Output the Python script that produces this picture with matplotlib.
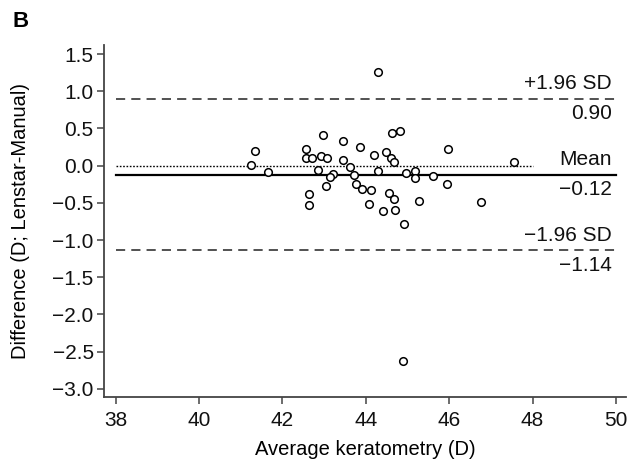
import matplotlib
matplotlib.use("Agg")
import matplotlib.pyplot as plt

plt.rcParams["font.family"] = ["Liberation Sans", "DejaVu Sans"]

# Bland-Altman data
avg_k = [41.25, 41.35, 41.66, 42.56, 42.56, 42.70, 42.63, 42.63, 42.96, 42.93,
         43.07, 42.85, 43.22, 43.13, 43.05, 43.44, 43.44, 43.63, 43.72, 43.76,
         43.91, 44.12, 44.07, 43.86, 44.19, 44.29, 44.48, 44.60, 44.68, 44.63,
         44.83, 44.96, 45.18, 45.19, 45.60, 45.98, 45.95, 44.56, 44.67, 45.27,
         44.40, 44.71, 44.92, 44.28, 47.56, 46.77, 44.90]
diff = [0.01, 0.20, -0.08, 0.22, 0.10, 0.10, -0.38, -0.53, 0.41, 0.13,
        0.10, -0.06, -0.11, -0.15, -0.28, 0.33, 0.08, -0.02, -0.12, -0.25,
        -0.32, -0.33, -0.52, 0.25, 0.14, -0.07, 0.19, 0.10, 0.05, 0.44,
        0.47, -0.10, -0.07, -0.17, -0.14, 0.22, -0.25, -0.37, -0.45, -0.47,
        -0.61, -0.59, -0.78, 1.26, 0.05, -0.49, -2.62]

mean_diff = -0.12
upper_loa = 0.90
lower_loa = -1.14

x_ticks = [38, 40, 42, 44, 46, 48, 50]
y_ticks = [1.5, 1.0, 0.5, 0.0, -0.5, -1.0, -1.5, -2.0, -2.5, -3.0]

fig = plt.figure(figsize=(6.29, 4.63), dpi=100)
ax = fig.add_axes([0.1655, 0.1425, 0.829, 0.760])

spine_col = "#444444"

# reference lines
ax.plot([38, 50], [upper_loa, upper_loa], color="#222222", lw=1.1,
        dashes=(6, 4), zorder=1)
ax.plot([38, 50], [lower_loa, lower_loa], color="#222222", lw=1.1,
        dashes=(6, 4), zorder=1)
ax.plot([38, 50], [mean_diff, mean_diff], color="black", lw=1.6, zorder=1)
ax.plot([38, 48], [0, 0], color="black", lw=1.0, ls=(0, (1.2, 1.2)), zorder=1)

ax.scatter(avg_k, diff, s=30, facecolors="white", edgecolors="black",
           linewidths=1.1, zorder=3)

# line labels
lab_kw = dict(ha="right", fontsize=15, color="#111111")
ax.annotate("+1.96 SD", (49.9, upper_loa), xytext=(0, 4),
            textcoords="offset points", va="bottom", **lab_kw)
ax.annotate(f"{upper_loa:.2f}", (49.9, upper_loa), xytext=(0, -4),
            textcoords="offset points", va="top", **lab_kw)
ax.annotate("Mean", (49.9, mean_diff), xytext=(0, 4),
            textcoords="offset points", va="bottom", **lab_kw)
ax.annotate(f"\u2212{abs(mean_diff):.2f}", (49.9, mean_diff), xytext=(0, -4),
            textcoords="offset points", va="top", **lab_kw)
ax.annotate("\u22121.96 SD", (49.9, lower_loa), xytext=(0, 4),
            textcoords="offset points", va="bottom", **lab_kw)
ax.annotate(f"\u2212{abs(lower_loa):.2f}", (49.9, lower_loa), xytext=(0, -4),
            textcoords="offset points", va="top", **lab_kw)

ax.set_xlim(37.72, 50.23)
ax.set_ylim(-3.11, 1.62)
ax.set_xticks(x_ticks)
ax.set_yticks(y_ticks)
ax.set_yticklabels([f"{v:.1f}".replace("-", "\u2212") for v in y_ticks])

ax.spines["top"].set_visible(False)
ax.spines["right"].set_visible(False)
for s in ("left", "bottom"):
    ax.spines[s].set_color(spine_col)
    ax.spines[s].set_linewidth(1.3)
ax.tick_params(direction="out", length=5, width=1.1, color=spine_col,
               labelsize=15, labelcolor="#111111")
ax.tick_params(axis="x", pad=5)
ax.tick_params(axis="y", pad=2.5)

ax.set_xlabel("Average keratometry (D)", fontsize=14.5)
ax.set_ylabel("Difference (D; Lenstar-Manual)", fontsize=14.5)
ax.xaxis.set_label_coords(0.5, -0.122)
ax.yaxis.set_label_coords(-0.142, 0.5)

fig.text(0.02, 0.953, "B", fontsize=16, fontweight="bold", va="center")

fig.savefig("out.png", dpi=100)
